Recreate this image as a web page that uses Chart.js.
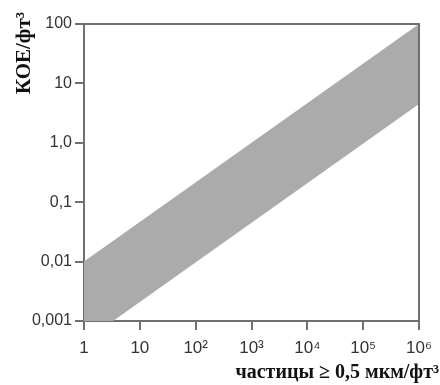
<!DOCTYPE html>
<html>
<head>
<meta charset="utf-8">
<script src="https://cdn.jsdelivr.net/npm/chart.js@4"></script>
<style>
  html, body { margin: 0; padding: 0; background: #fff; }
  #wrap { width: 440px; height: 385px; }
</style>
</head>
<body>
<div id="wrap"><canvas id="bandChart" width="440" height="385"></canvas></div>
<script>
// значения
const upperX = [1, 1e6];
const upperY = [0.01, 100];
const lowerX = [1, 1e6];
const lowerY = [0.00045, 4.5];

const xTickValues = [1, 10, 100, 1e3, 1e4, 1e5, 1e6];
const xTickLabels = ["1", "10", "10²", "10³", "10⁴", "10⁵", "10⁶"];
const yTickValues = [0.001, 0.01, 0.1, 1, 10, 100];
const yTickLabels = ["0,001", "0,01", "0,1", "1,0", "10", "100"];

const yTitle = "КОЕ/фт³";
const xTitle = "частицы ≥ 0,5 мкм/фт³";

const axisColor = "#707070";

const frameAndTitles = {
    id: "frameAndTitles",
    afterDraw(chart) {
        const ctx = chart.ctx;
        const a = chart.chartArea;
        ctx.save();
        ctx.strokeStyle = axisColor;
        ctx.lineWidth = 2;
        ctx.beginPath();
        ctx.moveTo(a.left, a.top);
        ctx.lineTo(a.right, a.top);
        ctx.lineTo(a.right, a.bottom);
        ctx.stroke();

        ctx.fillStyle = "#111";
        ctx.font = "bold 20px 'Liberation Serif', serif";
        ctx.textAlign = "right";
        ctx.textBaseline = "alphabetic";
        ctx.fillText(xTitle, 439, 378);

        ctx.translate(30, 12);
        ctx.rotate(-Math.PI / 2);
        ctx.textAlign = "right";
        ctx.font = "bold 21px 'Liberation Serif', serif";
        ctx.fillText(yTitle, 0, 0);
        ctx.restore();
    }
};

new Chart(document.getElementById("bandChart"), {
    type: "line",
    data: {
        datasets: [
            {
                data: upperX.map((x, i) => ({ x: x, y: upperY[i] })),
                borderWidth: 0,
                pointRadius: 0,
                backgroundColor: "#ababab",
                fill: "+1",
                clip: 0
            },
            {
                data: lowerX.map((x, i) => ({ x: x, y: lowerY[i] })),
                borderWidth: 0,
                pointRadius: 0,
                fill: false,
                clip: 0
            }
        ]
    },
    options: {
        responsive: false,
        animation: false,
        layout: { padding: { left: 0, top: 24, right: 21, bottom: 0 } },
        plugins: {
            legend: { display: false },
            tooltip: { enabled: false }
        },
        scales: {
            x: {
                type: "logarithmic",
                min: 1,
                max: 1e6,
                afterFit(scale) { scale.height = 64; },
                afterBuildTicks(scale) {
                    scale.ticks = xTickValues.map(v => ({ value: v }));
                },
                ticks: {
                    autoSkip: false,
                    maxRotation: 0,
                    padding: 8,
                    color: "#333",
                    font: { family: "'Liberation Sans', Arial, sans-serif", size: 17 },
                    callback: (v, i) => xTickLabels[i]
                },
                grid: { drawOnChartArea: false, drawTicks: true, tickLength: 9, color: axisColor, lineWidth: 2 },
                border: { color: axisColor, width: 2 }
            },
            y: {
                type: "logarithmic",
                min: 0.001,
                max: 100,
                afterFit(scale) { scale.width = 84; },
                afterBuildTicks(scale) {
                    scale.ticks = yTickValues.map(v => ({ value: v }));
                },
                ticks: {
                    autoSkip: false,
                    padding: 3,
                    color: "#333",
                    font: { family: "'Liberation Sans', Arial, sans-serif", size: 16 },
                    callback: (v, i) => yTickLabels[i]
                },
                grid: { drawOnChartArea: false, drawTicks: true, tickLength: 9, color: axisColor, lineWidth: 2 },
                border: { color: axisColor, width: 2 }
            }
        }
    },
    plugins: [frameAndTitles]
});
</script>
</body>
</html>
